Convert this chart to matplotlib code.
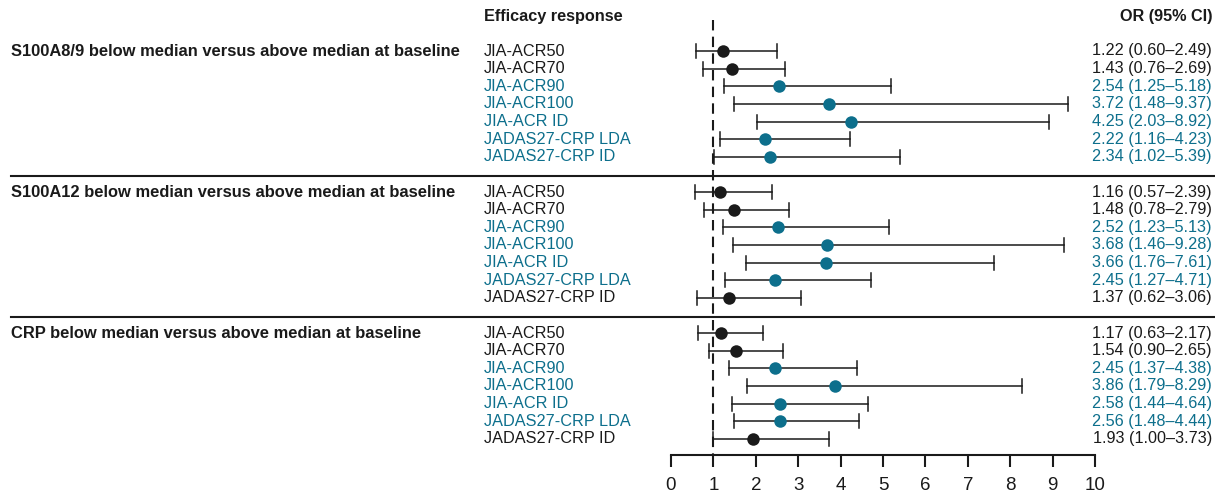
import matplotlib
matplotlib.use("Agg")
import matplotlib.pyplot as plt

plt.rcParams['font.family'] = ['Liberation Sans', 'DejaVu Sans']

# ---- data ----
sections = [
    "S100A8/9 below median versus above median at baseline",
    "S100A12 below median versus above median at baseline",
    "CRP below median versus above median at baseline",
]
responses = ["JIA-ACR50", "JIA-ACR70", "JIA-ACR90", "JIA-ACR100",
             "JIA-ACR ID", "JADAS27-CRP LDA", "JADAS27-CRP ID"]

or_s100a89 = [1.22, 1.43, 2.54, 3.72, 4.25, 2.22, 2.34]
lo_s100a89 = [0.60, 0.76, 1.25, 1.48, 2.03, 1.16, 1.02]
hi_s100a89 = [2.49, 2.69, 5.18, 9.37, 8.92, 4.23, 5.39]

or_s100a12 = [1.16, 1.48, 2.52, 3.68, 3.66, 2.45, 1.37]
lo_s100a12 = [0.57, 0.78, 1.23, 1.46, 1.76, 1.27, 0.62]
hi_s100a12 = [2.39, 2.79, 5.13, 9.28, 7.61, 4.71, 3.06]

or_crp = [1.17, 1.54, 2.45, 3.86, 2.58, 2.56, 1.93]
lo_crp = [0.63, 0.90, 1.37, 1.79, 1.44, 1.48, 1.00]
hi_crp = [2.17, 2.65, 4.38, 8.29, 4.64, 4.44, 3.73]

# significant (CI excludes 1) -> teal
sig_s100a89 = [False, False, True, True, True, True, True]
sig_s100a12 = [False, False, True, True, True, True, False]
sig_crp = [False, False, True, True, True, True, False]

all_or = [or_s100a89, or_s100a12, or_crp]
all_lo = [lo_s100a89, lo_s100a12, lo_crp]
all_hi = [hi_s100a89, hi_s100a12, hi_crp]
all_sig = [sig_s100a89, sig_s100a12, sig_crp]

xticks = list(range(0, 11))

TEAL = "#0d6f8c"
BLACK = "#1a1a1a"

W, H = 1215, 494
fig = plt.figure(figsize=(W / 100, H / 100), dpi=100)

# axes: x 0..10 maps to px 671..1095, y in pixel units (0 top .. 455 axis line)
x0px, x1px = 671, 1095
axis_y = 455
ax = fig.add_axes([x0px / W, (H - axis_y) / H, (x1px - x0px) / W, axis_y / H])
ax.set_xlim(0, 10)
ax.set_ylim(axis_y, 0)

def px2x(px):
    return (px - x0px) / (x1px - x0px) * 10

for s in ["left", "top", "right"]:
    ax.spines[s].set_visible(False)
ax.spines["bottom"].set_linewidth(1.5)
ax.spines["bottom"].set_color(BLACK)
ax.set_yticks([])
ax.set_xticks(xticks)
ax.set_xticklabels([str(t) for t in xticks], fontsize=13.5)
ax.tick_params(axis="x", direction="out", length=8.5, width=1.5, pad=7.5, colors=BLACK)

# reference line at OR = 1
ax.plot([1, 1], [20, axis_y], color=BLACK, lw=1.5, ls=(0, (5, 3)), clip_on=False, zorder=1)

sec_start = [51, 192, 333]
spacing = 17.65
label_x = px2x(484)
right_x = px2x(1212)
fs = 11.7
cap_half = 7.0  # px

for si, sec in enumerate(sections):
    y0 = sec_start[si]
    ax.text(px2x(11), y0, sec, fontsize=11.9, fontweight="bold", color=BLACK,
            ha="left", va="center", clip_on=False)
    for ri, resp in enumerate(responses):
        y = y0 + ri * spacing
        col = TEAL if all_sig[si][ri] else BLACK
        o, lo, hi = all_or[si][ri], all_lo[si][ri], all_hi[si][ri]
        ax.plot([lo, hi], [y, y], color=BLACK, lw=1.1, zorder=2, clip_on=False)
        ax.plot([lo, lo], [y - cap_half, y + cap_half], color=BLACK, lw=1.1,
                zorder=2, clip_on=False)
        ax.plot([hi, hi], [y - cap_half, y + cap_half], color=BLACK, lw=1.1,
                zorder=2, clip_on=False)
        ax.plot([o], [y], "o", color=col, markersize=9, markeredgewidth=0,
                zorder=3, clip_on=False)
        ax.text(label_x, y, resp, fontsize=fs, color=col, ha="left", va="center",
                clip_on=False)
        ax.text(right_x, y, f"{o:.2f} ({lo:.2f}\u2013{hi:.2f})", fontsize=fs,
                color=col, ha="right", va="center", clip_on=False)

# separators
for ysep in [176, 317]:
    ax.plot([px2x(11), px2x(1215)], [ysep, ysep], color=BLACK, lw=1.5, clip_on=False)

# headers
ax.text(label_x, 17, "Efficacy response", fontsize=fs, fontweight="bold",
        color=BLACK, ha="left", va="center", clip_on=False)
ax.text(right_x, 17, "OR (95% CI)", fontsize=fs, fontweight="bold",
        color=BLACK, ha="right", va="center", clip_on=False)

fig.savefig("out.png", dpi=100)
